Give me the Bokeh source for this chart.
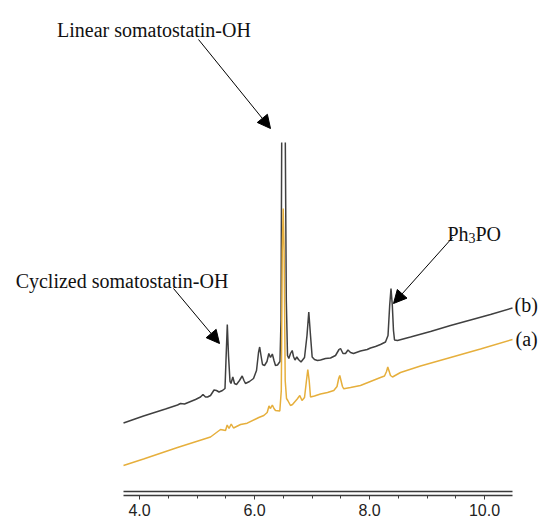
from bokeh.plotting import figure
from bokeh.models import Range1d, LinearAxis, FixedTicker, PrintfTickFormatter, Arrow, NormalHead
from bokeh.core.properties import value
from bokeh.embed import file_html
from bokeh.resources import INLINE

NAN = float("nan")  # gap: the main peak of (b) runs off the top of the original plot area

# ---------------- data (retention time in min, detector signal in arbitrary units) -------------
time_b = [3.722, 4.070, 4.452, 4.661, 4.713, 4.783, 4.974, 5.061, 5.104, 5.148, 5.183, 5.235,
          5.296, 5.339, 5.383, 5.443, 5.487, 5.504, 5.527, 5.548, 5.574, 5.591, 5.623, 5.652,
          5.687, 5.739, 5.786, 5.817, 5.843, 5.913, 5.983, 6.035, 6.070, 6.090, 6.113, 6.139,
          6.174, 6.217, 6.249, 6.278, 6.310, 6.339, 6.365, 6.400, 6.443, 6.461, 6.473, 6.505,
          6.536, 6.553, 6.574, 6.597, 6.626, 6.656, 6.678, 6.704, 6.736, 6.765, 6.809, 6.870,
          6.913, 6.944, 6.974, 7.003, 7.043, 7.096, 7.148, 7.235, 7.322, 7.409, 7.470, 7.496,
          7.539, 7.583, 7.626, 7.670, 7.722, 7.843, 7.960, 8.017, 8.104, 8.191, 8.278, 8.322,
          8.351, 8.374, 8.397, 8.417, 8.435, 8.487, 8.713, 9.061, 9.409, 9.757, 10.104, 10.487]
signal_b = [72.5, 79.5, 86.5, 90.5, 92, 91.5, 96, 98.5, 101, 98.5, 98.5, 100,
            105.5, 105, 103.5, 105, 107, 135, 171, 140, 114, 112, 118.5, 112,
            111, 115, 119.5, 115, 112, 114, 117, 125, 143, 148.5, 140, 131,
            130, 134, 142, 138, 141.5, 135, 130, 130.5, 134, 175, 353, NAN,
            353, 195, 140, 137, 142, 145, 139, 135.5, 138.5, 136, 133.5, 138,
            160, 183.5, 160, 138.5, 136, 135, 135.5, 137, 137.5, 140, 146, 147,
            142, 142, 145.5, 143, 142, 144.5, 146, 147.5, 149, 151, 153.5, 160,
            190, 207, 190, 165, 155.5, 155, 158.5, 164, 170, 175.5, 181, 187.5]

time_a = [3.722, 4.070, 4.661, 5.235, 5.409, 5.496, 5.525, 5.557, 5.595, 5.635, 5.757, 5.873,
          6.075, 6.162, 6.221, 6.252, 6.278, 6.310, 6.339, 6.365, 6.440, 6.466, 6.483, 6.499,
          6.515, 6.534, 6.557, 6.579, 6.626, 6.661, 6.743, 6.788, 6.826, 6.870, 6.904, 6.927,
          6.951, 6.974, 7.043, 7.148, 7.270, 7.379, 7.435, 7.464, 7.483, 7.504, 7.530, 7.553,
          7.670, 7.843, 8.017, 8.191, 8.261, 8.296, 8.318, 8.343, 8.365, 8.400, 8.539, 8.887,
          9.409, 9.930, 10.487]
signal_a = [30, 36.5, 48, 58.5, 66, 65, 70.5, 67, 71.5, 67.5, 71, 72.3,
            78, 80, 83, 89.5, 87, 90.5, 87, 85, 84.5, 105, 245, 287,
            245, 115, 97, 95, 90, 91, 96.5, 100, 95, 98, 115, 126,
            115, 98.5, 99.5, 101.5, 103, 105, 109, 117, 120, 115, 109, 106.7,
            108, 110, 114, 118, 119.5, 124, 128.5, 124, 120, 118.5, 123, 129.5,
            138, 146.5, 156]

tick_values = [4.0, 6.0, 8.0, 10.0]
minor_tick_values = [4.5, 5.0, 5.5, 6.5, 7.0, 7.5, 8.5, 9.0, 9.5]
trace_labels = ["(a)", "(b)"]
peak_labels = ["Linear somatostatin-OH", "Cyclized somatostatin-OH"]

# ---------------- layout helpers (pixel -> data) ----------------
def X(px):
    return 4.0 + (px - 139.0) / 57.5

def Y(py):
    return 495.0 - py

W, H = 538, 518
p = figure(width=W, height=H, x_range=Range1d(X(0), X(W)), y_range=Range1d(Y(H), Y(0)),
           output_backend="svg", toolbar_location=None, x_axis_type=None, y_axis_type=None,
           min_border=0, min_border_left=0, min_border_right=0, min_border_top=0,
           min_border_bottom=0, outline_line_color=None, background_fill_color="white",
           border_fill_color="white")
p.grid.visible = False

# axis
ax = LinearAxis(ticker=FixedTicker(ticks=tick_values, minor_ticks=minor_tick_values),
                formatter=PrintfTickFormatter(format="%.1f"),
                fixed_location=Y(495), bounds=(X(123), X(512)))
ax.axis_line_color = "#3a3a3a"
ax.axis_line_width = 1.4
ax.major_tick_in = 0
ax.major_tick_out = 4
ax.minor_tick_in = 0
ax.minor_tick_out = 3
ax.major_tick_line_color = "#3a3a3a"
ax.minor_tick_line_color = "#3a3a3a"
ax.major_label_text_font = "Liberation Sans"
ax.major_label_text_font_size = "16px"
ax.major_label_text_color = "#222222"
ax.major_label_standoff = 4
p.add_layout(ax, "below")
p.line(x=[X(123), X(512)], y=[Y(491), Y(491)], line_color="#3a3a3a", line_width=1.4)

# traces
p.line(time_b, signal_b, line_color="#404040", line_width=1.5)
p.line(time_a, signal_a, line_color="#E6AF3C", line_width=1.5)

serif = value("Liberation Serif")
tc = "#111111"
p.text(x=[X(153.5)], y=[Y(29)], text=[peak_labels[0]], text_font=serif, text_font_size="20px",
       text_align="center", text_baseline="alphabetic", text_color=tc)
p.text(x=[X(121.5)], y=[Y(280)], text=[peak_labels[1]], text_font=serif, text_font_size="20px",
       text_align="center", text_baseline="alphabetic", text_color=tc)
p.text(x=[X(447)], y=[Y(233)], text=["Ph"], text_font=serif, text_font_size="20px",
       text_align="left", text_baseline="alphabetic", text_color=tc)
p.text(x=[X(468)], y=[Y(237)], text=["3"], text_font=serif, text_font_size="14px",
       text_align="left", text_baseline="alphabetic", text_color=tc)
p.text(x=[X(475)], y=[Y(233)], text=["PO"], text_font=serif, text_font_size="20px",
       text_align="left", text_baseline="alphabetic", text_color=tc)
p.text(x=[X(514)], y=[Y(304)], text=[trace_labels[1]], text_font=serif, text_font_size="20px",
       text_align="left", text_baseline="alphabetic", text_color=tc)
p.text(x=[X(515)], y=[Y(338)], text=[trace_labels[0]], text_font=serif, text_font_size="20px",
       text_align="left", text_baseline="alphabetic", text_color=tc)

for (x0, y0, x1, y1) in [(198, 39, 270, 128), (173, 288, 219, 343), (452, 237, 393, 303)]:
    p.add_layout(Arrow(end=NormalHead(size=13, fill_color="black", line_color="black", line_width=1),
                       x_start=X(x0), y_start=Y(y0), x_end=X(x1), y_end=Y(y1),
                       line_color="black", line_width=1))

open("out.html", "w").write(file_html(p, INLINE))
